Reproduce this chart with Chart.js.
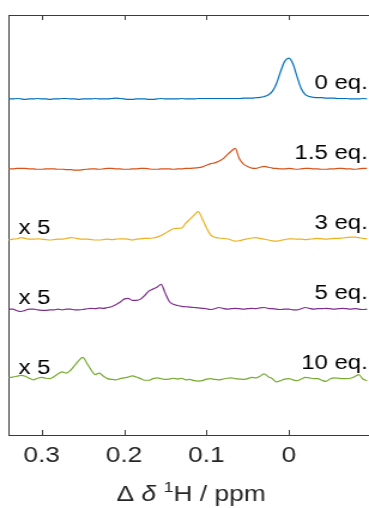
<!DOCTYPE html>
<html><head><meta charset="utf-8">
<script src="https://cdn.jsdelivr.net/npm/chart.js@4"></script>
<style>
html,body{margin:0;padding:0;overflow:hidden;background:#fff;}
canvas{display:block;}
</style></head>
<body>
<canvas id="c" width="308" height="508" style="width:369px;height:508px"></canvas>
<script>
// chemical shift change (ppm), shared by all spectra
const ppm = [0.340,0.335,0.330,0.325,0.320,0.315,0.310,0.305,0.300,0.295,
0.290,0.285,0.280,0.275,0.270,0.265,0.260,0.255,0.250,0.245,
0.240,0.235,0.230,0.225,0.220,0.215,0.210,0.205,0.200,0.195,
0.190,0.185,0.180,0.175,0.170,0.165,0.160,0.155,0.150,0.145,
0.140,0.135,0.130,0.125,0.120,0.115,0.110,0.105,0.100,0.095,
0.090,0.085,0.080,0.075,0.070,0.065,0.060,0.055,0.050,0.045,
0.040,0.035,0.030,0.025,0.020,0.015,0.010,0.005,0.000,-0.005,
-0.010,-0.015,-0.020,-0.025,-0.030,-0.035,-0.040,-0.045,-0.050,-0.055,
-0.060,-0.065,-0.070,-0.075,-0.080,-0.085,-0.090,-0.095];

// intensities (normalised, as displayed)
const eq0 = [0,0,0.01,0,-0.01,0,0,0.01,0,0,
-0.01,0,0,0.01,0.01,0,0,-0.01,0,0,
0,0.01,0,0,0,0.01,0.02,0.01,0,-0.01,
-0.01,0,0,0,-0.01,-0.01,0,0.01,0,0,
0,0,0.01,0,0,0,0.01,0.01,0.01,0.01,
0.01,0.01,0.01,0.01,0.01,0.01,0.01,0.02,0.02,0.02,
0.03,0.04,0.06,0.10,0.19,0.38,0.68,0.94,1.02,0.88,
0.56,0.26,0.11,0.06,0.04,0.03,0.03,0.02,0.02,0.02,
0.01,0.01,0.01,0,0,0,0.01,0];

const eq15 = [0,0,0.01,0.01,0.01,0,0,-0.01,-0.01,0,
0,0,-0.01,-0.01,-0.02,-0.02,-0.03,-0.03,-0.02,-0.01,
0,0,-0.01,0,0.01,0.01,0,0,-0.01,-0.01,
0,0,0.01,0.01,0,-0.01,-0.01,0,0,0,
-0.01,0,0,0.01,0.01,0.02,0.03,0.05,0.09,0.13,
0.15,0.19,0.25,0.35,0.44,0.51,0.25,0.12,0.06,0.02,
0.01,0.04,0.06,0.04,0.02,0.01,0,0,0.01,0,
-0.01,0,0.01,0.01,0,0,-0.01,-0.01,0,0,
0.01,0.01,0,0,-0.01,0,0.01,0.01];

const eq3 = [-0.03,-0.01,0,0.03,0.01,-0.01,-0.01,0,-0.01,-0.02,
-0.03,-0.02,-0.01,-0.01,0.01,0.03,0.02,0,-0.01,-0.01,
-0.02,-0.03,-0.03,-0.02,-0.01,-0.02,-0.01,0,0,-0.01,
-0.03,-0.01,0,0.01,0.01,0.02,0.04,0.08,0.14,0.20,
0.25,0.26,0.27,0.39,0.49,0.59,0.68,0.50,0.28,0.10,
0.04,0.02,0.01,0,-0.03,-0.06,-0.05,-0.02,0,0.02,
0.03,0.01,-0.01,-0.03,-0.05,-0.06,-0.04,-0.02,0,0,
-0.01,-0.01,-0.02,-0.01,0,0.01,0,-0.01,0,0.01,
0.01,0.02,0.03,0.04,0.04,0.03,0.01,0];

const eq5 = [-0.01,-0.01,-0.05,-0.07,-0.04,-0.01,-0.01,-0.03,-0.04,-0.04,
-0.03,-0.03,-0.01,-0.03,-0.01,-0.01,-0.03,-0.03,-0.02,0,
0.01,0,0.02,0.01,0.03,0.05,0.10,0.16,0.24,0.26,
0.21,0.21,0.24,0.33,0.44,0.49,0.54,0.61,0.39,0.18,
0.11,0.08,0.06,0.05,0.04,0.03,0.02,0.01,0,-0.02,
0,0.03,0.01,-0.01,0,0.01,0,-0.01,0,0.01,
0,0.02,0.03,0.01,0,-0.01,-0.02,-0.01,-0.01,-0.03,
-0.03,0,0.03,0.01,-0.01,0,0,0.01,0,-0.01,
0,0.01,0,-0.01,0,-0.01,-0.02,-0.01];

const eq10 = [0.03,0.04,0.06,0.08,0.06,0.01,-0.03,0.01,0.03,0.01,
0,0.05,0.12,0.17,0.14,0.21,0.33,0.45,0.53,0.38,
0.22,0.10,0.14,0.06,0,-0.02,-0.03,0,0.02,0.04,
0.07,0.04,0,-0.04,-0.04,0,0.02,0,-0.02,-0.01,
0.01,-0.01,0.01,-0.03,-0.02,-0.05,-0.06,-0.05,-0.01,0,
-0.02,-0.03,-0.01,0.01,0.02,0,-0.01,-0.02,0,0.03,
0.02,0.06,0.12,0.05,0,-0.08,-0.05,-0.01,0,-0.03,
-0.05,-0.01,0.03,0.02,0,0,-0.04,-0.07,-0.01,0.02,
0.01,0,0,0.01,0.05,0.10,-0.01,-0.05];

const spectra = [eq0, eq15, eq3, eq5, eq10];
const offsets = [7, 5.25, 3.5, 1.75, 0];
const seriesNames = ['0 eq.', '1.5 eq.', '3 eq.', '5 eq.', '10 eq.'];
const scaleNotes = ['', '', 'x 5', 'x 5', 'x 5'];
const colors = ['#0072BD', '#D95319', '#EDB120', '#7E2F8E', '#77AC30'];
const xTickValues = [0.3, 0.2, 0.1, 0];
const xTickLabels = ['0.3', '0.2', '0.1', '0'];

const FONT = '"Liberation Sans", Arial, Helvetica, sans-serif';
const AXIS = '#3a3a3a';
const X_MIN = -0.0974, X_MAX = 0.3404;

const datasets = spectra.map((arr, k) => ({
  label: seriesNames[k],
  data: ppm.map((v, i) => ({x: v, y: offsets[k] + arr[i]})),
  borderColor: colors[k],
  borderWidth: 1.2,
  pointRadius: 0,
  fill: false,
  cubicInterpolationMode: 'monotone'
}));

const decor = {
  id: 'decor',
  afterDatasetsDraw(chart) {
    const {ctx, chartArea: a, scales} = chart;
    const x = scales.x, y = scales.y;
    ctx.save();
    // inward tick marks, top and bottom
    ctx.strokeStyle = AXIS; ctx.lineWidth = 1;
    ctx.beginPath();
    xTickValues.forEach(v => {
      const px = Math.round(x.getPixelForValue(v)) + 0.5;
      ctx.moveTo(px, a.bottom); ctx.lineTo(px, a.bottom - 5);
      ctx.moveTo(px, a.top); ctx.lineTo(px, a.top + 5);
    });
    ctx.stroke();
    // spectrum labels
    ctx.fillStyle = '#000';
    ctx.font = '20px ' + FONT;
    ctx.textBaseline = 'alphabetic';
    seriesNames.forEach((name, k) => {
      ctx.textAlign = 'right';
      ctx.fillText(name, a.right - 1, y.getPixelForValue(offsets[k] + 0.24));
      if (scaleNotes[k]) {
        ctx.textAlign = 'left';
        ctx.fillText(scaleNotes[k], x.getPixelForValue(0.328), y.getPixelForValue(offsets[k] + 0.125));
      }
    });
    // axis title: Δ δ ¹H / ppm
    ctx.fillStyle = '#262626';
    const parts = [
      {t: '\u0394 ', f: '22px ' + FONT, dy: 0},
      {t: '\u03B4', f: 'italic 22px ' + FONT, dy: 0},
      {t: ' ', f: '22px ' + FONT, dy: 0},
      {t: '1', f: '15px ' + FONT, dy: -9},
      {t: 'H / ppm', f: '22px ' + FONT, dy: 0}
    ];
    let total = 0;
    parts.forEach(p => { ctx.font = p.f; p.w = ctx.measureText(p.t).width; total += p.w; });
    let cx = (a.left + a.right) / 2 - total / 2 + 2;
    const base = 501;
    ctx.textAlign = 'left';
    parts.forEach(p => { ctx.font = p.f; ctx.fillText(p.t, cx, base + p.dy); cx += p.w; });
    ctx.restore();
  }
};

new Chart(document.getElementById('c'), {
  type: 'line',
  data: {datasets},
  options: {
    responsive: false,
    animation: false,
    devicePixelRatio: 1,
    layout: {padding: {left: 7, right: 0, top: 15, bottom: 38.6}},
    plugins: {legend: {display: false}, tooltip: {enabled: false}},
    scales: {
      x: {
        type: 'linear', position: 'bottom', reverse: true, min: X_MIN, max: X_MAX,
        grid: {display: false, drawTicks: false, tickLength: 0},
        border: {display: true, color: AXIS, width: 1},
        afterBuildTicks: s => { s.ticks = xTickValues.map(v => ({value: v})); },
        afterFit: s => { s.height = 34.4; },
        ticks: {
          padding: 8, color: '#262626', maxRotation: 0, autoSkip: false,
          font: {family: FONT, size: 22},
          callback: (v, i) => xTickLabels[i]
        }
      },
      x2: {
        type: 'linear', position: 'top', reverse: true, min: X_MIN, max: X_MAX,
        grid: {display: false, drawTicks: false, tickLength: 0},
        border: {display: true, color: AXIS, width: 1},
        afterFit: s => { s.height = 0; },
        ticks: {display: false}
      },
      y: {
        type: 'linear', position: 'left', min: -1.41, max: 9.10,
        grid: {display: false, drawTicks: false, tickLength: 0},
        border: {display: true, color: AXIS, width: 1},
        afterFit: s => { s.width = 0; },
        ticks: {display: false}
      }
    }
  },
  plugins: [decor]
});
</script>
</body></html>
